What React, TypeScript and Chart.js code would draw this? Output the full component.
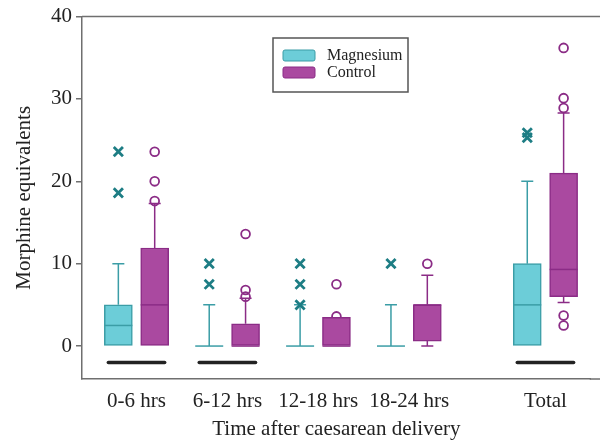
import React, { useEffect, useRef } from 'react';
import { Chart, registerables } from 'chart.js';

Chart.register(...registerables);

// ---- data ----
const categories = ['0-6 hrs', '6-12 hrs', '12-18 hrs', '18-24 hrs', 'Total'];
const categoryPositions = [1, 2, 3, 4, 5.5];
const yTicks = [0, 10, 20, 30, 40];

const magMin = [0, 0, 0, 0, 0];
const magQ1 = [0, 0, 0, 0, 0];
const magMedian = [2.5, 0, 0, 0, 5];
const magQ3 = [5, 0, 0, 0, 10];
const magMax = [10, 5, 5, 5, 20];
const magOutliers = [[18.6, 23.6], [7.5, 10], [5, 7.5, 10], [10], [25.3, 25.9]];

const ctlMin = [0, 0, 0, 0, 5.3];
const ctlQ1 = [0, 0, 0, 0.6, 6];
const ctlMedian = [5, 0, 0, 5, 9.3];
const ctlQ3 = [11.9, 2.7, 3.5, 5, 21];
const ctlMax = [17.3, 5.8, 3.5, 8.6, 28.3];
const ctlOutliers = [[17.6, 20, 23.6], [6, 6.8, 13.6], [3.6, 7.5], [10], [2.5, 3.7, 28.9, 30.1, 36.2]];

const significantGroups = ['0-6 hrs', '6-12 hrs', 'Total'];
const significanceLevel = -2;

// ---- style ----
const FONT = '"Liberation Serif", "Times New Roman", serif';
const AXIS = '#6f6f6f';
const TEXT = '#222222';
const MAG_FILL = '#6ccdd8';
const MAG_LINE = '#3b9da6';
const MAG_MARK = '#1d7d84';
const CTL_FILL = '#aa49a0';
const CTL_LINE = '#8b2c86';
const CTL_MARK = '#8b2c86';
const OFFSET = 0.2;
const BOX_W = 28;
const CAP_W = 12;
const SIG_HALF = 0.31;

const series = [
  { name: 'Magnesium', min: magMin, q1: magQ1, med: magMedian, q3: magQ3, max: magMax, out: magOutliers, offset: -OFFSET, fill: MAG_FILL, line: MAG_LINE, mark: MAG_MARK },
  { name: 'Control', min: ctlMin, q1: ctlQ1, med: ctlMedian, q3: ctlQ3, max: ctlMax, out: ctlOutliers, offset: OFFSET, fill: CTL_FILL, line: CTL_LINE, mark: CTL_MARK },
];

const boxPlugin = {
  id: 'boxWhiskers',
  beforeDatasetsDraw(chart: any) {
    const { ctx, scales } = chart;
    const x = scales.x, y = scales.y;
    ctx.save();
    ctx.lineWidth = 1.5;
    series.forEach((s) => {
      ctx.strokeStyle = s.line;
      categoryPositions.forEach((p, i) => {
        const cx = x.getPixelForValue(p + s.offset);
        if (s.max[i] > s.q3[i]) {
          const y1 = y.getPixelForValue(s.q3[i]);
          const y2 = y.getPixelForValue(s.max[i]);
          ctx.beginPath();
          ctx.moveTo(cx, y1); ctx.lineTo(cx, y2);
          ctx.moveTo(cx - CAP_W / 2, y2); ctx.lineTo(cx + CAP_W / 2, y2);
          ctx.stroke();
        }
        if (s.min[i] < s.q1[i]) {
          const y1 = y.getPixelForValue(s.q1[i]);
          const y2 = y.getPixelForValue(s.min[i]);
          ctx.beginPath();
          ctx.moveTo(cx, y1); ctx.lineTo(cx, y2);
          ctx.moveTo(cx - CAP_W / 2, y2); ctx.lineTo(cx + CAP_W / 2, y2);
          ctx.stroke();
        }
      });
    });
    ctx.restore();
  },
  afterDatasetsDraw(chart: any) {
    const { ctx, scales, chartArea } = chart;
    const x = scales.x, y = scales.y;
    ctx.save();
    ctx.lineWidth = 1.5;
    series.forEach((s) => {
      ctx.strokeStyle = s.line;
      categoryPositions.forEach((p, i) => {
        const cx = x.getPixelForValue(p + s.offset);
        const ym = y.getPixelForValue(s.med[i]);
        ctx.beginPath();
        ctx.moveTo(cx - BOX_W / 2, ym); ctx.lineTo(cx + BOX_W / 2, ym);
        ctx.stroke();
      });
    });
    // frame lines running off the right edge (top, and bottom extension)
    ctx.strokeStyle = AXIS;
    ctx.lineWidth = 1.5;
    ctx.beginPath();
    ctx.moveTo(chartArea.left, chartArea.top);
    ctx.lineTo(chart.width, chartArea.top);
    ctx.moveTo(chartArea.right - 1, chartArea.bottom);
    ctx.lineTo(chart.width, chartArea.bottom);
    ctx.stroke();

    // legend
    const lx = 273, ly = 38, lw = 135, lh = 54;
    ctx.fillStyle = '#ffffff';
    ctx.fillRect(lx, ly, lw, lh);
    ctx.strokeStyle = '#555555';
    ctx.lineWidth = 1.5;
    ctx.strokeRect(lx, ly, lw, lh);
    series.forEach((s, k) => {
      const sy = 50 + k * 17;
      ctx.fillStyle = s.fill;
      ctx.strokeStyle = s.line;
      ctx.lineWidth = 1;
      ctx.beginPath();
      (ctx as any).roundRect ? (ctx as any).roundRect(283, sy, 32, 11, 2) : ctx.rect(283, sy, 32, 11);
      ctx.fill();
      ctx.stroke();
      ctx.fillStyle = TEXT;
      ctx.font = '16px ' + FONT;
      ctx.textBaseline = 'middle';
      ctx.textAlign = 'left';
      ctx.fillText(s.name, 327, sy + 6);
    });
    ctx.restore();
  },
};

export default function App() {
  const ref = useRef<HTMLCanvasElement>(null);
  useEffect(() => {
    if (!ref.current) return;
    const datasets: any[] = [];
    series.forEach((s) => {
      datasets.push({
        type: 'bar',
        label: s.name,
        data: categoryPositions.map((p, i) => ({ x: p + s.offset, y: [s.q1[i], s.q3[i]] })),
        backgroundColor: s.fill,
        borderColor: s.line,
        borderWidth: 1.5,
        borderSkipped: false,
        barThickness: BOX_W,
        grouped: false,
        order: 0,
      });
    });
    series.forEach((s) => {
      const isMag = s.name === 'Magnesium';
      datasets.push({
        type: 'scatter',
        label: s.name + ' outliers',
        data: s.out.flatMap((arr, i) => arr.map((v) => ({ x: categoryPositions[i] + s.offset, y: v }))),
        pointStyle: isMag ? 'crossRot' : 'circle',
        pointRadius: isMag ? 6.5 : 4.4,
        pointBorderWidth: isMag ? 2.8 : 1.8,
        pointBorderColor: s.mark,
        pointBackgroundColor: 'rgba(255,255,255,0)',
        order: 1,
      });
    });
    significantGroups.forEach((g) => {
      const p = categoryPositions[categories.indexOf(g)];
      datasets.push({
        type: 'line',
        label: 'sig ' + g,
        data: [{ x: p - SIG_HALF, y: significanceLevel }, { x: p + SIG_HALF, y: significanceLevel }],
        borderColor: '#222222',
        borderWidth: 3.5,
        pointRadius: 0,
        borderCapStyle: 'round',
        order: 2,
      });
    });

    const tickFont = { family: FONT, size: 21 };
    const chart = new Chart(ref.current, {
      type: 'bar',
      data: { datasets },
      options: {
        responsive: false,
        animation: false,
        devicePixelRatio: 1,
        layout: { padding: { top: 15, right: 0, left: 0, bottom: 0 } },
        plugins: { legend: { display: false }, tooltip: { enabled: false } },
        scales: {
          x: {
            type: 'linear',
            offset: false,
            min: 0.4,
            max: 5.998,
            afterBuildTicks: (s: any) => { s.ticks = categoryPositions.map((v) => ({ value: v })); },
            afterFit: (s: any) => { s.height = 63; },
            ticks: {
              callback: (v: any) => { const i = categoryPositions.indexOf(Number(v)); return i >= 0 ? categories[i] : ''; },
              font: tickFont, color: TEXT, padding: 10, maxRotation: 0, autoSkip: false,
            },
            grid: { display: false, drawOnChartArea: false, drawTicks: false },
            border: { display: true, color: AXIS, width: 1.5 },
            title: { display: true, text: 'Time after caesarean delivery', font: tickFont, color: TEXT, padding: { top: 0, bottom: 0 } },
          },
          y: {
            type: 'linear',
            min: -4,
            max: 40,
            afterBuildTicks: (s: any) => { s.ticks = yTicks.map((v) => ({ value: v })); },
            afterFit: (s: any) => { s.width = 82; },
            ticks: { font: tickFont, color: TEXT, padding: 4 },
            grid: { drawOnChartArea: false, drawTicks: true, tickLength: 6, color: AXIS, lineWidth: 1.5 },
            border: { display: true, color: AXIS, width: 1.5 },
            title: { display: true, text: 'Morphine equivalents', font: tickFont, color: TEXT, padding: { top: 12, bottom: 0 } },
          },
        },
      } as any,
      plugins: [boxPlugin],
    });
    return () => chart.destroy();
  }, []);
  return (
    <div style={{ position: 'absolute', left: 0, top: 0, width: 600, height: 442, background: '#fff' }}>
      <canvas ref={ref} width={600} height={442} style={{ display: 'block' }} />
    </div>
  );
}
